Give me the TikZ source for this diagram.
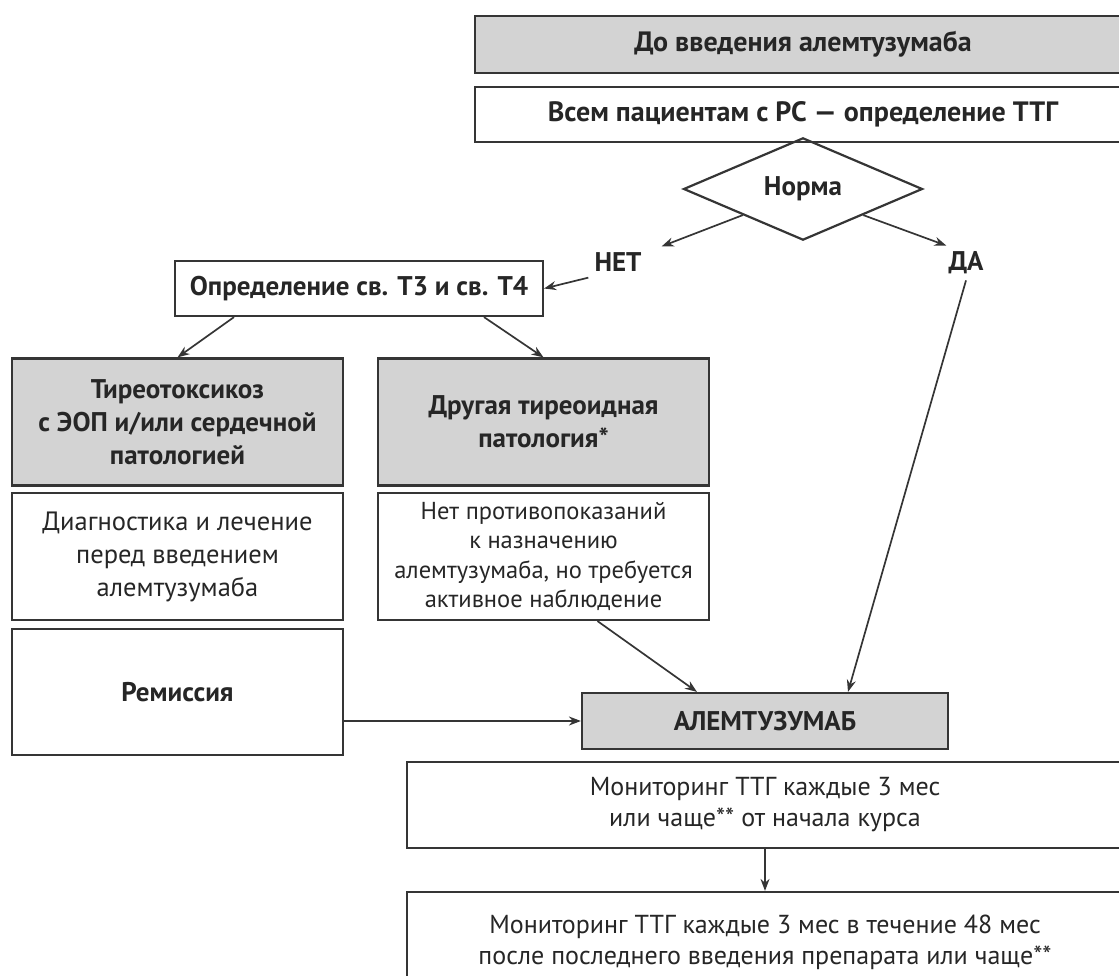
\documentclass[tikz,border=0pt]{standalone}
\usepackage{fontspec}
\setmainfont{PT Sans}
\usetikzlibrary{shapes.geometric,arrows.meta}

\definecolor{boxgray}{HTML}{D3D3D3}
\definecolor{inkgray}{HTML}{353535}

\tikzset{
  box/.style={draw=inkgray, line width=2.2pt, text=black!85, align=center,
    inner sep=0pt, font=\fontsize{26.5}{33}\selectfont},
  boldbox/.style={box, font=\fontsize{27}{33}\selectfont\bfseries},
  graybox/.style={boldbox, fill=boxgray},
  answer/.style={text=black!85, inner sep=6pt, font=\fontsize{27}{33}\selectfont\bfseries},
  arr/.style={-{Stealth[length=12pt,width=9pt]}, draw=inkgray, line width=1.7pt},
}

\begin{document}
\begin{tikzpicture}[x=1pt, y=-1pt]
  % Frame
  \useasboundingbox (0,0) rectangle (1119,976);
  \clip (0,0) rectangle (1119,976);

  % Before alemtuzumab
  \node[graybox, minimum width=656, minimum height=57, font=\fontsize{28}{33}\selectfont\bfseries] (pre) at (803,44.5) {До введения алемтузумаба};
  \node[boldbox, minimum width=656, minimum height=55, font=\fontsize{28}{33}\selectfont\bfseries] (all) at (803,114.5) {Всем пациентам с РС — определение ТТГ};

  % Decision
  \node[boldbox, diamond, minimum width=239, minimum height=88] (norm) at (803,189) {Норма};
  \node[answer] (net) at (618,262) {НЕТ};
  \node[answer] (da) at (966,263) {ДА};
  \draw[arr] (norm.south west) -- ([xshift=14pt]net.north east);
  \draw[arr] (norm.south east) -- ([xshift=4pt]da.north west);

  % Free T3 and T4
  \node[boldbox, minimum width=368, minimum height=55] (opr) at (359,288.5) {Определение св. Т3 и св. Т4};
  \draw[arr] (net.south west) -- (opr.east);

  % Left column
  \node[graybox, minimum width=331, minimum height=127] (tireo) at (177.5,422) {Тиреотоксикоз\\с ЭОП и/или сердечной\\патологией};
  \node[box, minimum width=331, minimum height=127] (diag) at (177.5,556.5) {Диагностика и лечение\\перед введением\\алемтузумаба};
  \node[boldbox, minimum width=331, minimum height=126] (remis) at (177.5,692) {Ремиссия};

  % Right column
  \node[graybox, minimum width=331, minimum height=127] (drug) at (543.5,422) {Другая тиреоидная\\патология*};
  \node[box, minimum width=331, minimum height=127, font=\fontsize{24.5}{29.5}\selectfont] (nopr) at (543.5,556.5) {Нет противопоказаний\\к назначению\\алемтузумаба, но требуется\\активное наблюдение};

  \draw[arr] ([xshift=-125pt]opr.south) -- (tireo.north);
  \draw[arr] ([xshift=125pt]opr.south) -- (drug.north);

  % Alemtuzumab
  \node[graybox, minimum width=366, minimum height=56] (alem) at (765,721) {АЛЕМТУЗУМАБ};
  \draw[arr] ([xshift=54pt]nopr.south) -- ([xshift=-68pt]alem.north);
  \draw[arr] (da.south) -- ([xshift=83pt]alem.north);
  \draw[arr] (remis.east |- alem.west) -- (alem.west);

  % Monitoring
  \node[box, minimum width=716, minimum height=86, font=\fontsize{26}{31}\selectfont] (mon1) at (765,805) {Мониторинг ТТГ каждые 3 мес\\или чаще** от начала курса};
  \node[box, minimum width=716, minimum height=100, font=\fontsize{26}{31}\selectfont] (mon2) at (765,942) {Мониторинг ТТГ каждые 3 мес в течение 48 мес\\после последнего введения препарата или чаще**};
  \draw[arr] (mon1.south) -- (mon2.north);
\end{tikzpicture}
\end{document}
